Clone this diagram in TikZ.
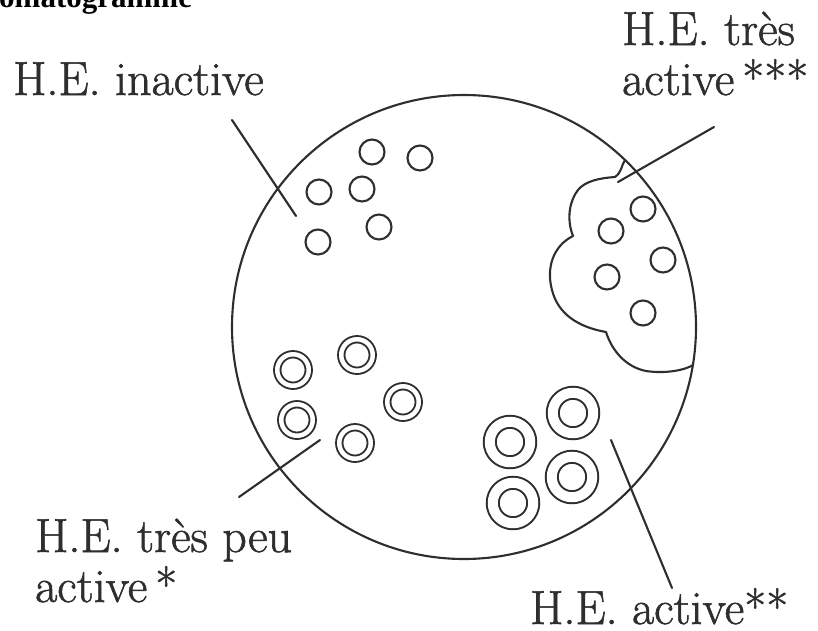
\documentclass[tikz,border=0pt]{standalone}
\usepackage{fontspec}
\newfontfamily\titlefont{Liberation Serif}
\newfontfamily\lblfont{Latin Modern Roman}[FakeBold=1.2]
\definecolor{ink}{HTML}{2E2E2E}
\begin{document}
\begin{tikzpicture}[x=1pt,y=-1pt,line join=round,line cap=round,
  ln/.style={draw=ink,line width=2.1pt},
  cell/.style={ln,circle,inner sep=0pt,minimum size=25pt},
  ring/.style={circle,inner sep=0pt,draw=ink,line width=1.9pt,double=white,double distance=4.5pt,minimum size=31.5pt},
  bigring/.style={circle,inner sep=0pt,draw=ink,line width=2pt,double=white,double distance=10pt,minimum size=40.5pt},
  lbl/.style={text=ink,inner sep=0pt,anchor=base west,font=\lblfont\fontsize{48}{50}\selectfont}]
\useasboundingbox (0,0) rectangle (818,630);
\fill[white] (0,0) rectangle (818,630);
% title (cropped at the top)
\node[anchor=base west,inner sep=0pt,font=\titlefont\bfseries\fontsize{31}{31}\selectfont] (title) at (-1,7) {omatogramme};
% big circle
\node[ln,circle,inner sep=0pt,minimum size=464pt] (field) at (464,327) {};
% cloud (very active)
\draw[ln] (625,160) .. controls (621,166) and (622,172) .. (615,177)
  .. controls (600,178) and (585,181) .. (578,190)
  .. controls (570,200) and (566,218) .. (573,236)
  .. controls (553,246) and (546,268) .. (552,290)
  .. controls (558,314) and (578,327) .. (606,332)
  .. controls (612,351) and (626,367) .. (646,371)
  .. controls (666,374) and (685,370) .. (693,365);
% inactive cells
\node[cell] (i1) at (372,152) {};
\node[cell] (i2) at (420,158) {};
\node[cell] (i3) at (319,192) {};
\node[cell] (i4) at (362,189) {};
\node[cell] (i5) at (379,227) {};
\node[cell] (i6) at (318,242) {};
% very active cells
\node[cell] (v1) at (643,209) {};
\node[cell] (v2) at (611,231) {};
\node[cell] (v3) at (663,260) {};
\node[cell] (v4) at (607,277) {};
\node[cell] (v5) at (643,313) {};
% very little active cells
\node[ring] (p1) at (293,370) {};
\node[ring] (p2) at (357,355) {};
\node[ring] (p3) at (403,402) {};
\node[ring] (p4) at (297,420) {};
\node[ring] (p5) at (355,443) {};
% active cells
\node[bigring] (a1) at (510,442) {};
\node[bigring] (a2) at (573,413) {};
\node[bigring] (a3) at (572,477) {};
\node[bigring] (a4) at (513,503) {};
% labels
\node[lbl] (Linactive) at (13,95) {H.E. inactive};
\node[lbl] (Ltres) at (622,45) {\vtop{\baselineskip=50pt\hbox{H.E. très}\hbox{active\,***}}};
\node[lbl] (Lpeu) at (35,552) {\vtop{\baselineskip=50pt\hbox{H.E. très peu}\hbox{active\,*}}};
\node[lbl] (Lactive) at (530,624) {H.E. active**};
% pointer lines
\coordinate (s1) at (232,120); \coordinate (e1) at (296,216);
\coordinate (s2) at (714,127); \coordinate (e2) at (618,182);
\coordinate (s3) at (239,497); \coordinate (e3) at (320,440);
\coordinate (s4) at (672,588); \coordinate (e4) at (611,440);
\draw[ln] (s1) -- (e1);
\draw[ln] (s2) -- (e2);
\draw[ln] (s3) -- (e3);
\draw[ln] (s4) -- (e4);
\end{tikzpicture}
\end{document}
